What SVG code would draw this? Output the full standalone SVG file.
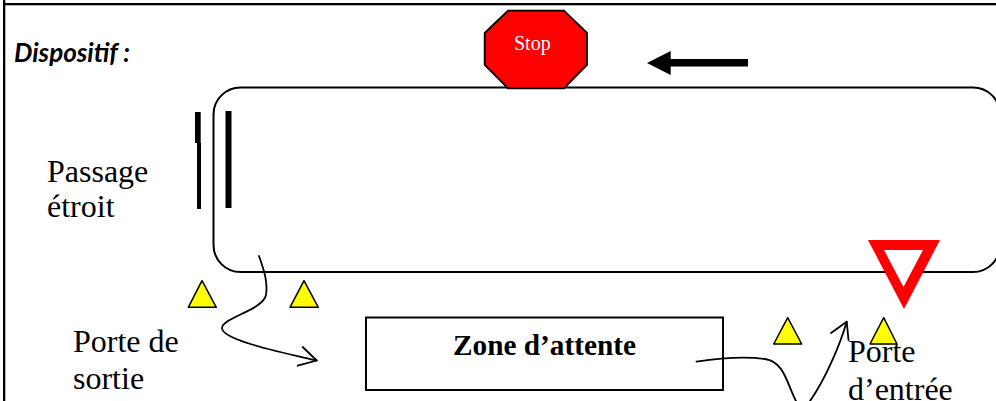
<svg xmlns="http://www.w3.org/2000/svg" width="996" height="401" viewBox="0 0 996 401">
<style>
.lbl{font-family:"Liberation Serif","Times New Roman",serif;font-size:32px;fill:#000}
.cone{fill:#ff0;stroke:#000;stroke-width:1.5;stroke-linejoin:round}
.bar{fill:#000;stroke:none}
.conn{fill:none;stroke:#000;stroke-width:1.8;stroke-linecap:round;stroke-linejoin:round}
</style>
<rect width="996" height="401" fill="#fff"/>
<g id="frame"><rect x="3" y="0" width="2.3" height="401" fill="#000"/><rect x="3" y="3" width="993" height="2.3" fill="#000"/></g>
<g id="title"><text x="14" y="62" font-family="Lato,'Open Sans',sans-serif" font-weight="700" font-style="italic" font-size="26" fill="#000">Dispositif :</text></g>
<g id="parcours"><rect x="213.5" y="87.5" width="786.5" height="184.5" rx="27" ry="27" fill="none" stroke="#000" stroke-width="2"/></g>
<g id="stop"><polygon points="508,10.7 564,10.7 587,33 587,65 564,88.3 508,88.3 484.7,65 484.7,33" fill="#f00" stroke="#000" stroke-width="1.8"/><text x="514" y="50" font-family="'Liberation Serif',serif" font-size="20" fill="#fff">Stop</text></g>
<g id="direction"><polygon points="647,63 670.7,51 670.7,59 748,59 748,66.5 670.7,66.5 670.7,75" fill="#000"/></g>
<g id="passage-etroit"><path class="bar" d="M195 112h5.7v31h0.3v66h-4v-66h-2z"/><rect class="bar" x="225.5" y="111" width="6" height="97"/><text class="lbl" x="47" y="182">Passage</text><text class="lbl" x="47" y="217">étroit</text></g>
<g id="cone-1"><polygon class="cone" points="202,280.7 216.3,307.3 188.3,307.3"/></g>
<g id="cone-2"><polygon class="cone" points="304,280.7 318.3,307.3 290,307.3"/></g>
<g id="cone-3"><polygon class="cone" points="787.7,317.7 801.7,344 773.7,344"/></g>
<g id="cone-4"><polygon class="cone" points="883.7,317.7 897,344 870,344"/></g>
<g id="zone-attente"><rect x="366" y="317.5" width="357" height="72.5" fill="#fff" stroke="#000" stroke-width="2"/><text x="453" y="355" font-family="'Liberation Serif',serif" font-weight="700" font-size="29.3" fill="#000">Zone d’attente</text></g>
<g id="connectors">
<path class="conn" d="M259 256C264 270 268 282 266 295C263 310 222 318 222 328C222 340 280 352 316.7 360.5"/>
<path class="conn" d="M302.7 347L316.7 360.5L297.7 365.7"/>
<path class="conn" d="M696.5 361.7C720 358 745 356 765 359C785 362 787 385 797 403"/>
<path class="conn" d="M810 401C825 380 840 345 846.7 321.7"/>
<path class="conn" d="M831 333L846.7 321.7L848.5 340"/>
</g>
<g id="cedez"><polygon points="868,240 940,240 904,309" fill="#f00"/><polygon points="884,250 923,250 903.5,287" fill="#fff"/></g>
<g id="porte-sortie"><text class="lbl" x="73" y="352">Porte de</text><text class="lbl" x="73" y="389">sortie</text></g>
<g id="porte-entree"><text class="lbl" x="848" y="362">Porte</text><text class="lbl" x="848" y="399.5">d’entrée</text></g>
</svg>
